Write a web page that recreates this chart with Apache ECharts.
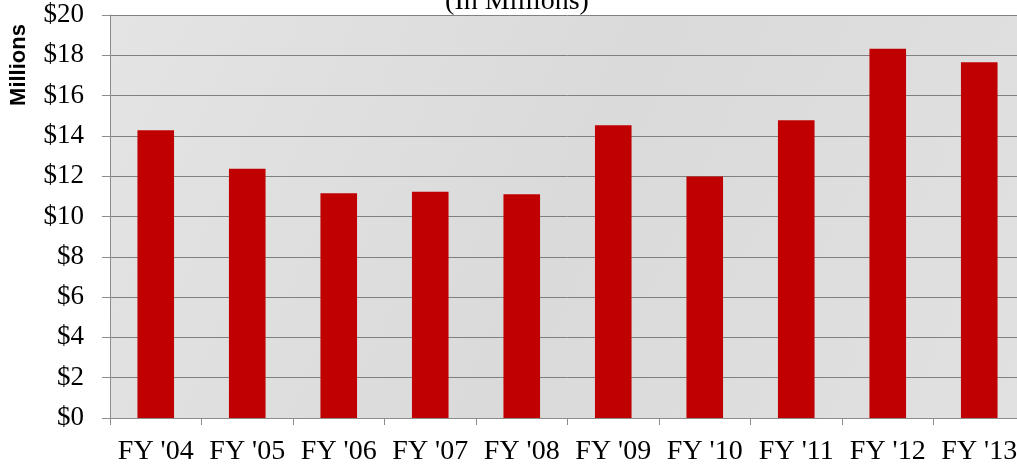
<!DOCTYPE html>
<html><head><meta charset="utf-8">
<script src="https://cdn.jsdelivr.net/npm/echarts@6/dist/echarts.min.js"></script>
<style>html,body{margin:0;padding:0;background:#fff;overflow:hidden}#c{width:1025px;height:468px}</style>
</head><body><div id="c"></div>
<script>
const categories = ["FY '04","FY '05","FY '06","FY '07","FY '08","FY '09","FY '10","FY '11","FY '12","FY '13"];
const revenue = [14.28, 12.37, 11.15, 11.23, 11.1, 14.53, 11.98, 14.78, 18.33, 17.65];
const yTicks = {min: 0, max: 20, interval: 2};
const titleText = "(In Millions)";
const yName = "Millions";

const chart = echarts.init(document.getElementById('c'), null, {renderer: 'canvas'});
chart.setOption({
  animation: false,
  title: {
    text: titleText, left: 512, top: -17, textAlign: 'center',
    textStyle: {fontFamily: 'Liberation Serif', fontSize: 28, fontWeight: 'normal', color: '#000'}
  },
  graphic: [{
    type: 'text', x: 19, y: 65, rotation: Math.PI / 2,
    style: {text: yName, font: 'bold 22px "Liberation Sans"', fill: '#000', align: 'center', verticalAlign: 'middle'}
  }],
  grid: {
    left: 110, right: 0, top: 15, bottom: 50, show: true,
    backgroundColor: new echarts.graphic.LinearGradient(0, 0, 1, 1, [
      {offset: 0, color: '#e4e4e4'}, {offset: 0.5, color: '#dadada'}, {offset: 1, color: '#e1e1e1'}
    ]),
    borderWidth: 0
  },
  xAxis: {
    type: 'category', data: categories,
    axisLine: {lineStyle: {color: '#8c8c8c', width: 1}},
    axisTick: {show: true, length: 7, alignWithLabel: false, lineStyle: {color: '#8c8c8c'}},
    axisLabel: {fontFamily: 'Liberation Serif', fontSize: 28, color: '#000', margin: 20, interval: 0}
  },
  yAxis: {
    type: 'value', min: yTicks.min, max: yTicks.max, interval: yTicks.interval,
    axisLine: {show: true, lineStyle: {color: '#8c8c8c', width: 1}},
    axisTick: {show: true, length: 8, lineStyle: {color: '#8c8c8c'}},
    splitLine: {lineStyle: {color: '#808080', width: 1}},
    axisLabel: {fontFamily: 'Liberation Serif', fontSize: 27, color: '#000', margin: 26,
      formatter: v => '$' + v}
  },
  series: [{
    type: 'bar', data: revenue, barWidth: '40%',
    itemStyle: {color: '#c00000'}
  }]
});
</script></body></html>
